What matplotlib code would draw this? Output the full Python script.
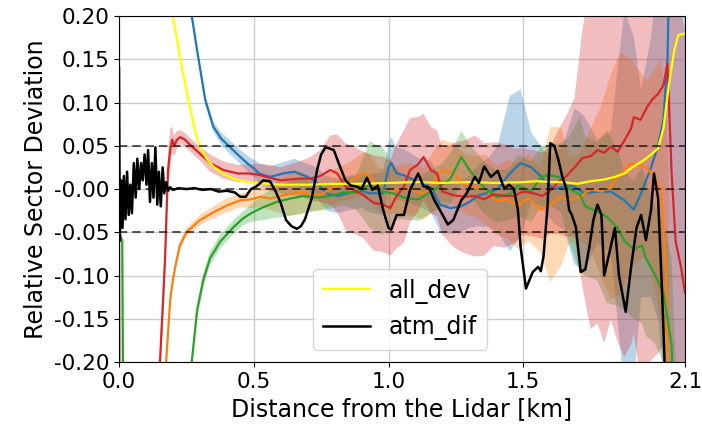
import numpy as np
import matplotlib
matplotlib.use("Agg")
import matplotlib.pyplot as plt

# distance [km] / deviation / spread
red_x = [0.000, 0.004, 0.140, 0.152, 0.165, 0.171, 0.178, 0.182, 0.190, 0.197,
         0.205, 0.215, 0.227, 0.245, 0.264, 0.300, 0.338, 0.387, 0.440, 0.476,
         0.510, 0.560, 0.600, 0.636, 0.670, 0.710, 0.747, 0.784, 0.810, 0.840,
         0.870, 0.907, 0.944, 0.980, 1.007, 1.026, 1.057, 1.080, 1.108, 1.130,
         1.157, 1.180, 1.200, 1.240, 1.280, 1.320, 1.355, 1.390, 1.430, 1.465,
         1.500, 1.540, 1.570, 1.600, 1.630, 1.660, 1.690, 1.720, 1.750, 1.775,
         1.800, 1.825, 1.850, 1.875, 1.900, 1.910, 1.935, 1.960, 1.980, 2.000,
         2.020, 2.035, 2.050, 2.065, 2.085, 2.100]
red_y = [-0.036, -0.5, -0.5, -0.2, -0.12, -0.08, -0.013, 0.022, 0.045, 0.057,
         0.050, 0.057, 0.060, 0.057, 0.051, 0.041, 0.030, 0.022, 0.018, 0.018,
         0.017, 0.013, 0.010, 0.011, 0.012, 0.012, 0.015, 0.022, 0.018, 0.003,
         -0.001, -0.007, -0.016, -0.018, -0.022, -0.010, 0.003, 0.022, 0.028, 0.037,
         0.022, 0.018, -0.003, -0.007, -0.009, -0.008, -0.012, -0.006, -0.008, -0.008,
         -0.003, -0.005, -0.008, -0.002, 0.008, 0.015, 0.025, 0.036, 0.038, 0.045,
         0.042, 0.049, 0.043, 0.056, 0.070, 0.083, 0.080, 0.095, 0.104, 0.110,
         0.120, 0.145, 0.020, -0.060, -0.090, -0.120]
red_s = [0.0, 0.0, 0.0, 0.02, 0.02, 0.02, 0.02, 0.02, 0.025, 0.015,
         0.012, 0.01, 0.008, 0.008, 0.008, 0.008, 0.01, 0.01, 0.01, 0.01,
         0.012, 0.015, 0.015, 0.018, 0.02, 0.025, 0.03, 0.04, 0.045, 0.05,
         0.05, 0.05, 0.055, 0.055, 0.055, 0.06, 0.065, 0.06, 0.055, 0.05,
         0.05, 0.05, 0.05, 0.06, 0.065, 0.07, 0.065, 0.06, 0.06, 0.055,
         0.05, 0.05, 0.05, 0.05, 0.06, 0.07, 0.08, 0.15, 0.2, 0.2,
         0.22, 0.2, 0.22, 0.25, 0.25, 0.25, 0.3, 0.3, 0.3, 0.3,
         0.3, 0.3, 0.3, 0.3, 0.3, 0.3]

blue_x = [0.000, 0.250, 0.270, 0.290, 0.320, 0.350, 0.380, 0.410, 0.440, 0.475,
          0.500, 0.520, 0.560, 0.610, 0.650, 0.700, 0.735, 0.770, 0.810, 0.860,
          0.900, 0.930, 0.980, 1.000, 1.010, 1.030, 1.057, 1.110, 1.157, 1.190,
          1.230, 1.270, 1.300, 1.330, 1.370, 1.405, 1.450, 1.490, 1.530, 1.565,
          1.580, 1.615, 1.650, 1.690, 1.725, 1.775, 1.825, 1.875, 1.910, 1.937,
          1.974, 2.000, 2.020, 2.035, 2.045, 2.100]
blue_y = [1.0, 0.30, 0.20, 0.16, 0.103, 0.072, 0.058, 0.049, 0.040, 0.030,
          0.024, 0.018, 0.014, 0.018, 0.020, 0.014, 0.007, -0.005, -0.008, -0.004,
          -0.002, -0.005, -0.005, 0.025, 0.030, 0.018, 0.016, 0.008, 0.003, -0.018,
          -0.022, -0.020, -0.015, -0.008, -0.004, 0.000, 0.018, 0.030, 0.025, 0.015,
          0.008, 0.000, 0.003, 0.003, -0.005, -0.003, -0.003, -0.013, -0.024, -0.005,
          0.025, 0.050, 0.080, 0.150, 0.300, 0.400]
blue_s = [0.0, 0.002, 0.003, 0.004, 0.005, 0.006, 0.007, 0.008, 0.008, 0.009,
          0.01, 0.012, 0.012, 0.013, 0.015, 0.015, 0.018, 0.02, 0.02, 0.02,
          0.02, 0.022, 0.025, 0.028, 0.03, 0.03, 0.03, 0.028, 0.03, 0.03,
          0.03, 0.03, 0.03, 0.035, 0.04, 0.05, 0.09, 0.085, 0.04, 0.035,
          0.035, 0.04, 0.05, 0.09, 0.09, 0.06, 0.07, 0.22, 0.2, 0.12,
          0.15, 0.2, 0.3, 0.4, 0.5, 0.6]

orange_x = [0.000, 0.160, 0.175, 0.190, 0.200, 0.210, 0.225, 0.250, 0.300, 0.350,
            0.400, 0.450, 0.490, 0.524, 0.560, 0.600, 0.636, 0.670, 0.710, 0.747,
            0.784, 0.820, 0.860, 0.910, 0.930, 0.960, 1.000, 1.040, 1.080, 1.130,
            1.170, 1.200, 1.240, 1.280, 1.320, 1.360, 1.400, 1.440, 1.480, 1.520,
            1.565, 1.600, 1.640, 1.670, 1.710, 1.750, 1.790, 1.825, 1.860, 1.900,
            1.930, 1.960, 1.980, 2.010, 2.030, 2.040]
orange_y = [-1.0, -0.5, -0.2, -0.128, -0.105, -0.088, -0.066, -0.050, -0.036, -0.027,
            -0.019, -0.013, -0.012, -0.009, -0.011, -0.008, -0.006, -0.004, -0.006, -0.007,
            0.000, 0.006, 0.010, 0.018, 0.015, 0.000, -0.004, 0.000, 0.000, -0.006,
            0.010, 0.022, 0.018, 0.006, 0.003, 0.000, -0.013, -0.012, -0.019, -0.010,
            -0.024, -0.018, -0.009, -0.013, -0.009, 0.000, -0.003, 0.003, 0.018, 0.030,
            0.027, 0.025, 0.015, 0.000, -0.100, -0.300]
orange_s = [0.0, 0.005, 0.005, 0.005, 0.005, 0.005, 0.005, 0.005, 0.006, 0.007,
            0.008, 0.008, 0.01, 0.012, 0.013, 0.02, 0.025, 0.025, 0.02, 0.018,
            0.02, 0.02, 0.022, 0.025, 0.025, 0.025, 0.025, 0.028, 0.03, 0.03,
            0.035, 0.035, 0.035, 0.035, 0.035, 0.04, 0.04, 0.045, 0.05, 0.05,
            0.05, 0.09, 0.08, 0.05, 0.05, 0.07, 0.1, 0.13, 0.14, 0.12,
            0.11, 0.1, 0.12, 0.15, 0.2, 0.3]

green_x = [0.000, 0.012, 0.020, 0.250, 0.270, 0.290, 0.313, 0.338, 0.375, 0.425,
           0.460, 0.490, 0.535, 0.585, 0.636, 0.685, 0.735, 0.784, 0.830, 0.880,
           0.930, 0.980, 1.030, 1.057, 1.110, 1.157, 1.200, 1.230, 1.270, 1.300,
           1.360, 1.400, 1.450, 1.480, 1.530, 1.565, 1.600, 1.640, 1.670, 1.710,
           1.730, 1.775, 1.810, 1.850, 1.875, 1.910, 1.940, 1.955, 1.985, 2.020,
           2.050, 2.065]
green_y = [-0.050, -0.060, -0.500, -0.500, -0.200, -0.140, -0.105, -0.080, -0.061, -0.044,
           -0.034, -0.028, -0.021, -0.015, -0.011, -0.008, -0.010, -0.008, -0.004, -0.004,
           0.005, -0.003, -0.006, -0.010, -0.012, -0.003, 0.005, 0.012, 0.037, 0.022,
           0.000, -0.009, -0.006, 0.004, -0.003, 0.014, 0.016, 0.013, 0.000, -0.006,
           -0.020, -0.026, -0.032, -0.045, -0.060, -0.070, -0.065, -0.080, -0.097, -0.120,
           -0.180, -0.300]
green_s = [0.0, 0.005, 0.0, 0.0, 0.008, 0.008, 0.008, 0.008, 0.008, 0.008,
           0.008, 0.01, 0.015, 0.018, 0.02, 0.02, 0.015, 0.015, 0.015, 0.02,
           0.05, 0.05, 0.03, 0.025, 0.025, 0.025, 0.025, 0.03, 0.03, 0.03,
           0.03, 0.03, 0.03, 0.035, 0.035, 0.035, 0.035, 0.04, 0.06, 0.09,
           0.08, 0.08, 0.1, 0.09, 0.08, 0.08, 0.09, 0.09, 0.08, 0.08,
           0.1, 0.1]

all_dev_x = [0.000, 0.004, 0.150, 0.200, 0.233, 0.260, 0.280, 0.300, 0.325, 0.350,
             0.390, 0.425, 0.460, 0.500, 0.550, 0.600, 0.700, 0.800, 0.900, 1.000,
             1.100, 1.200, 1.300, 1.400, 1.500, 1.550, 1.600, 1.650, 1.700, 1.750,
             1.800, 1.840, 1.875, 1.900, 1.930, 1.950, 1.975, 2.000, 2.020, 2.040,
             2.060, 2.075, 2.100]
all_dev_y = [0.140, 3.0, 0.60, 0.200, 0.141, 0.099, 0.070, 0.049, 0.035, 0.026,
             0.017, 0.012, 0.009, 0.007, 0.006, 0.005, 0.005, 0.006, 0.006, 0.007,
             0.008, 0.007, 0.008, 0.007, 0.008, 0.009, 0.008, 0.008, 0.006, 0.009,
             0.011, 0.014, 0.018, 0.024, 0.030, 0.034, 0.040, 0.047, 0.070, 0.120,
             0.160, 0.178, 0.180]

atm_dif_x = [0.000, 0.003, 0.008, 0.013, 0.018, 0.024, 0.030, 0.036, 0.042, 0.048,
             0.055, 0.062, 0.068, 0.075, 0.082, 0.088, 0.095, 0.102, 0.108, 0.115,
             0.122, 0.128, 0.135, 0.142, 0.148, 0.155, 0.162, 0.168, 0.175, 0.182,
             0.190, 0.200, 0.220, 0.250, 0.280, 0.310, 0.340, 0.370, 0.400, 0.430,
             0.450, 0.470, 0.490, 0.510, 0.535, 0.560, 0.580, 0.600, 0.620, 0.640,
             0.660, 0.675, 0.690, 0.715, 0.735, 0.750, 0.766, 0.780, 0.797, 0.815,
             0.840, 0.860, 0.880, 0.900, 0.920, 0.940, 0.960, 0.980, 1.000, 1.010,
             1.030, 1.057, 1.080, 1.110, 1.130, 1.150, 1.170, 1.190, 1.220, 1.240,
             1.270, 1.290, 1.320, 1.335, 1.355, 1.380, 1.405, 1.430, 1.447, 1.465,
             1.480, 1.490, 1.510, 1.535, 1.555, 1.565, 1.575, 1.590, 1.600, 1.615,
             1.630, 1.645, 1.660, 1.670, 1.680, 1.695, 1.713, 1.730, 1.745, 1.760,
             1.775, 1.790, 1.800, 1.820, 1.840, 1.855, 1.880, 1.900, 1.920, 1.937,
             1.955, 1.974, 1.985, 2.000, 2.015, 2.030]
atm_dif_y = [0.140, -0.060, 0.010, -0.045, 0.015, -0.035, 0.020, -0.030, 0.005, -0.028,
             0.030, -0.010, 0.035, 0.000, 0.030, 0.010, 0.040, 0.005, 0.045, -0.015,
             0.030, -0.010, 0.048, -0.018, 0.020, -0.020, 0.025, -0.005, 0.008, -0.002,
             0.002, -0.001, 0.001, 0.000, 0.001, -0.001, 0.000, -0.003, -0.002, -0.004,
             -0.009, -0.009, 0.000, 0.003, 0.010, 0.009, -0.002, -0.016, -0.036, -0.043,
             -0.046, -0.043, -0.035, -0.011, 0.022, 0.040, 0.048, 0.047, 0.045, 0.030,
             0.010, 0.004, 0.003, 0.000, 0.013, -0.001, 0.004, -0.024, -0.045, -0.047,
             -0.030, -0.030, -0.001, 0.018, 0.003, 0.002, -0.013, -0.024, -0.041, -0.036,
             -0.013, -0.005, 0.014, 0.007, 0.026, 0.014, 0.021, 0.000, 0.005, 0.000,
             -0.024, -0.067, -0.115, -0.096, -0.090, -0.095, -0.078, -0.020, 0.053, 0.050,
             0.034, 0.014, 0.000, -0.024, -0.030, -0.044, -0.096, -0.093, -0.067, -0.036,
             -0.018, -0.030, -0.100, -0.073, -0.045, -0.100, -0.142, -0.090, -0.045, -0.030,
             -0.059, -0.024, 0.018, -0.010, -0.120, -0.250]

sectors = [
    (blue_x, blue_y, blue_s, "tab:blue"),
    (orange_x, orange_y, orange_s, "tab:orange"),
    (green_x, green_y, green_s, "tab:green"),
    (red_x, red_y, red_s, "tab:red"),
]

x_ticks = [0.0, 0.5, 1.0, 1.5, 2.1]
x_tick_labels = ["0.0", "0.5", "1.0", "1.5", "2.1"]
y_ticks = [0.20, 0.15, 0.10, 0.05, 0.0, -0.05, -0.10, -0.15, -0.20]
y_tick_labels = ["0.20", "0.15", "0.10", "0.05", "-0.00", "-0.05", "-0.10", "-0.15", "-0.20"]
ref_levels = [0.05, 0.0, -0.05]

plt.rcParams["font.size"] = 17
plt.rcParams["xtick.labelsize"] = 15.5
plt.rcParams["ytick.labelsize"] = 15.5

fig = plt.figure(figsize=(7.02, 4.26), dpi=100)
ax = fig.add_axes([0.1695, 0.1502, 0.8063, 0.8122])

for x, y, s, c in sectors:
    x = np.array(x)
    y = np.array(y)
    s = np.array(s)
    ax.fill_between(x, y - s, y + s, color=c, alpha=0.3, lw=0)
for x, y, s, c in sectors:
    ax.plot(x, y, color=c, lw=1.6)

ax.plot(all_dev_x, all_dev_y, color="yellow", lw=1.6, label="all_dev")
ax.plot(atm_dif_x, atm_dif_y, color="black", lw=1.8, label="atm_dif")

for lev in ref_levels:
    ax.axhline(lev, color="k", ls="--", lw=1.2, alpha=0.75, dashes=(5, 3))

ax.set_xlim(0, 2.1)
ax.set_ylim(-0.2, 0.2)
ax.set_xticks(x_ticks)
ax.set_xticklabels(x_tick_labels)
ax.set_yticks(y_ticks)
ax.set_yticklabels(y_tick_labels)
ax.grid(True, color="#cccccc", lw=1)
ax.set_axisbelow(True)
ax.set_xlabel("Distance from the Lidar [km]")
ax.set_ylabel("Relative Sector Deviation")

ax.legend(loc="lower left", bbox_to_anchor=(0.343, 0.035), borderaxespad=0)

fig.savefig("out.png", dpi=100)
